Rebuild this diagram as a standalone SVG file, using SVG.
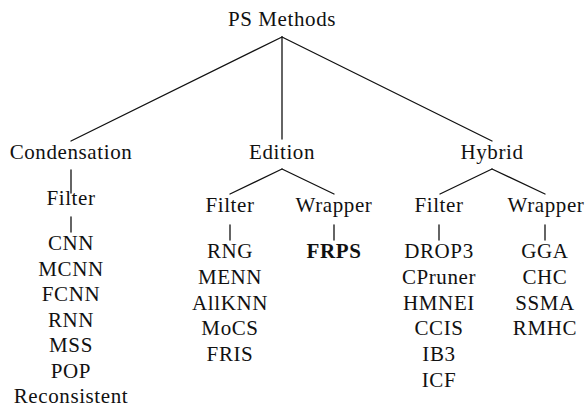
<svg xmlns="http://www.w3.org/2000/svg" width="585" height="410" viewBox="0 0 585 410">
<style>
text{font-family:"Liberation Serif",Tinos,"Times New Roman","Nimbus Roman","Nimbus Roman No9 L","Noto Serif","DejaVu Serif",FreeSerif,Georgia,"Latin Modern Roman","CMU Serif",serif;font-size:21px;letter-spacing:0.6px;fill:#111;text-anchor:middle}
.b{font-weight:bold}
.e line{stroke:#111;stroke-width:1.3;stroke-linecap:round}
</style>
<rect width="585" height="410" fill="#fff"/>
<g id="connectors" class="e">
<line x1="282" y1="37" x2="71" y2="141"/>
<line x1="282" y1="37" x2="282" y2="139"/>
<line x1="282" y1="37" x2="492" y2="141"/>
<line x1="71" y1="170" x2="71" y2="193"/>
<line x1="71" y1="217" x2="71" y2="232"/>
<line x1="282" y1="169" x2="230" y2="194"/>
<line x1="282" y1="169" x2="334" y2="194"/>
<line x1="230" y1="225" x2="230" y2="240"/>
<line x1="334" y1="225" x2="334" y2="240"/>
<line x1="492" y1="169" x2="440" y2="194"/>
<line x1="492" y1="169" x2="545" y2="194"/>
<line x1="439" y1="225" x2="439" y2="240"/>
<line x1="545" y1="225" x2="545" y2="240"/>
</g>
<g id="root"><text x="282" y="26">PS Methods</text></g>
<g id="condensation"><text x="71" y="158.5">Condensation</text></g>
<g id="edition"><text x="282" y="158.5">Edition</text></g>
<g id="hybrid"><text x="492" y="158.5">Hybrid</text></g>
<g id="cond-filter"><text x="71" y="205">Filter</text></g>
<g id="cond-filter-list">
<text x="71" y="250">CNN</text>
<text x="71" y="275.5">MCNN</text>
<text x="71" y="301">FCNN</text>
<text x="71" y="326.5">RNN</text>
<text x="71" y="352">MSS</text>
<text x="71" y="377.5">POP</text>
<text x="71" y="403">Reconsistent</text>
</g>
<g id="ed-filter"><text x="230" y="212">Filter</text></g>
<g id="ed-filter-list">
<text x="230" y="258">RNG</text>
<text x="230" y="284">MENN</text>
<text x="230" y="310">AllKNN</text>
<text x="230" y="335">MoCS</text>
<text x="230" y="360.5">FRIS</text>
</g>
<g id="ed-wrapper"><text x="334" y="212">Wrapper</text></g>
<g id="ed-wrapper-list"><text class="b" x="334" y="258">FRPS</text></g>
<g id="hy-filter"><text x="439" y="212">Filter</text></g>
<g id="hy-filter-list">
<text x="439" y="258">DROP3</text>
<text x="439" y="284">CPruner</text>
<text x="439" y="310">HMNEI</text>
<text x="439" y="335">CCIS</text>
<text x="439" y="360.5">IB3</text>
<text x="439" y="386.5">ICF</text>
</g>
<g id="hy-wrapper"><text x="546" y="212">Wrapper</text></g>
<g id="hy-wrapper-list">
<text x="545" y="258">GGA</text>
<text x="545" y="284">CHC</text>
<text x="545" y="310">SSMA</text>
<text x="545" y="335">RMHC</text>
</g>
</svg>
